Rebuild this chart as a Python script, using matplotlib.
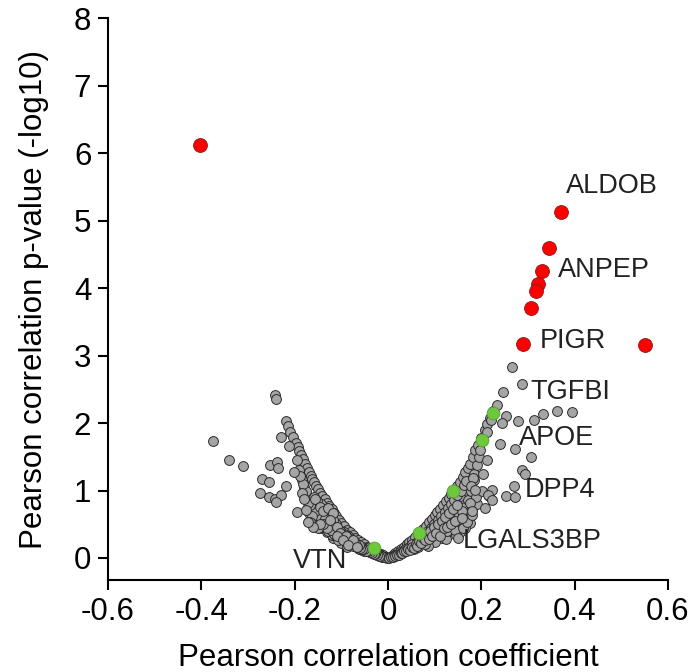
import matplotlib
matplotlib.use("Agg")
import matplotlib.pyplot as plt

plt.rcParams['font.family'] = ['Liberation Sans', 'DejaVu Sans']

# ---- grey points: upper edge of left branch ----
left_edge_r = [-0.242, -0.240, -0.219, -0.214, -0.210, -0.204, -0.197, -0.193, -0.190, -0.186,
               -0.182, -0.178, -0.174, -0.170, -0.166, -0.162, -0.158, -0.154, -0.150, -0.146,
               -0.141, -0.136, -0.131, -0.126, -0.121, -0.116, -0.111, -0.106, -0.100, -0.094,
               -0.088, -0.082, -0.076, -0.070, -0.064, -0.058, -0.052, -0.046, -0.040, -0.034,
               -0.028, -0.022, -0.016, -0.010, -0.004]
left_edge_v = [2.41, 2.36, 2.03, 1.96, 1.87, 1.80, 1.71, 1.64, 1.58, 1.52,
               1.46, 1.40, 1.34, 1.28, 1.22, 1.17, 1.12, 1.07, 1.02, 0.97,
               0.92, 0.87, 0.82, 0.77, 0.72, 0.67, 0.62, 0.57, 0.52, 0.47,
               0.42, 0.38, 0.34, 0.30, 0.26, 0.23, 0.20, 0.17, 0.14, 0.12,
               0.10, 0.08, 0.06, 0.04, 0.02]

# ---- grey points: inner band of left branch ----
left_band_r = [-0.030, -0.040, -0.050, -0.060, -0.070, -0.078, -0.085, -0.090, -0.096, -0.100,
               -0.106, -0.110, -0.115, -0.120, -0.125, -0.130, -0.136, -0.140, -0.146, -0.150,
               -0.155, -0.160, -0.165, -0.170, -0.145, -0.160, -0.130, -0.118, -0.100, -0.088,
               -0.175, -0.180, -0.185, -0.190, -0.195, -0.020, -0.012, -0.055, -0.065, -0.075,
               -0.135, -0.155, -0.170, -0.120, -0.108]
left_band_v = [0.07, 0.10, 0.13, 0.17, 0.20, 0.25, 0.22, 0.30, 0.27, 0.36,
               0.32, 0.42, 0.38, 0.50, 0.45, 0.56, 0.52, 0.64, 0.60, 0.72,
               0.66, 0.80, 0.74, 0.88, 0.44, 0.52, 0.38, 0.30, 0.22, 0.16,
               0.95, 1.05, 1.15, 1.30, 1.45, 0.04, 0.02, 0.12, 0.15, 0.18,
               0.46, 0.58, 0.66, 0.34, 0.26]

left_band2_r = [-0.008, -0.014, -0.018, -0.024, -0.026, -0.032, -0.036, -0.038, -0.044, -0.048,
                -0.052, -0.056, -0.062, -0.066, -0.068, -0.072, -0.080, -0.082, -0.086, -0.092,
                -0.094, -0.098, -0.104, -0.108, -0.112, -0.114, -0.118, -0.122, -0.126, -0.128,
                -0.132, -0.134, -0.138, -0.142, -0.144, -0.148, -0.152, -0.156, -0.158, -0.162,
                -0.168, -0.172, -0.176, -0.182, -0.188]
left_band2_v = [0.01, 0.03, 0.05, 0.05, 0.08, 0.07, 0.11, 0.09, 0.12, 0.15,
                0.11, 0.17, 0.14, 0.21, 0.19, 0.24, 0.22, 0.29, 0.33, 0.25,
                0.38, 0.34, 0.42, 0.38, 0.50, 0.34, 0.57, 0.44, 0.62, 0.40,
                0.68, 0.48, 0.74, 0.56, 0.80, 0.62, 0.84, 0.70, 0.90, 0.62,
                0.78, 0.82, 1.00, 1.10, 1.22]

left_band3_r = [-0.003, -0.007, -0.011, -0.015, -0.019, -0.023, -0.027, -0.031, -0.035, -0.039,
                -0.043, -0.047, -0.051, -0.055, -0.059, -0.063, -0.067, -0.071, -0.075, -0.079,
                -0.083, -0.087, -0.091, -0.095, -0.099, -0.103, -0.107, -0.111, -0.115, -0.119,
                -0.123, -0.127, -0.131, -0.135, -0.139]
left_band3_v = [0.00, 0.01, 0.02, 0.03, 0.03, 0.05, 0.06, 0.06, 0.08, 0.09,
                0.10, 0.10, 0.13, 0.14, 0.15, 0.19, 0.17, 0.22, 0.21, 0.27,
                0.26, 0.31, 0.28, 0.35, 0.31, 0.40, 0.35, 0.44, 0.36, 0.48,
                0.41, 0.52, 0.45, 0.58, 0.50]

# ---- grey points: scattered (left) ----
left_out_r = [-0.375, -0.341, -0.310, -0.230, -0.212, -0.252, -0.237, -0.236, -0.202, -0.269,
              -0.256, -0.219, -0.275, -0.255, -0.242, -0.230, -0.239, -0.185, -0.180, -0.196,
              -0.175, -0.157, -0.167, -0.149, -0.146, -0.160, -0.172, -0.146, -0.139, -0.128,
              -0.117, -0.124, -0.110, -0.103, -0.089, -0.074, -0.110, -0.096, -0.085, -0.067]
left_out_v = [1.73, 1.45, 1.37, 1.80, 1.66, 1.38, 1.42, 1.33, 1.28, 1.17,
              1.12, 1.06, 0.96, 0.91, 0.88, 0.93, 0.83, 0.96, 0.87, 0.68,
              0.71, 0.88, 0.54, 0.44, 0.51, 0.46, 0.53, 0.76, 0.69, 0.74,
              0.66, 0.56, 0.46, 0.37, 0.32, 0.27, 0.32, 0.27, 0.19, 0.17]

# ---- grey points: upper edge of right branch ----
right_edge_r = [0.004, 0.010, 0.016, 0.022, 0.028, 0.034, 0.040, 0.046, 0.052, 0.058,
                0.064, 0.070, 0.076, 0.082, 0.088, 0.094, 0.100, 0.106, 0.112, 0.118,
                0.124, 0.130, 0.136, 0.142, 0.148, 0.154, 0.160, 0.166, 0.172, 0.176,
                0.182, 0.187, 0.193, 0.200, 0.207, 0.212, 0.219, 0.226, 0.233, 0.246]
right_edge_v = [0.02, 0.05, 0.08, 0.11, 0.14, 0.17, 0.20, 0.24, 0.27, 0.31,
                0.35, 0.39, 0.43, 0.48, 0.53, 0.58, 0.63, 0.68, 0.73, 0.79,
                0.84, 0.89, 0.95, 1.01, 1.07, 1.13, 1.20, 1.27, 1.34, 1.40,
                1.50, 1.60, 1.68, 1.78, 1.90, 1.98, 2.08, 2.18, 2.27, 2.46]

# ---- grey points: inner band of right branch ----
right_band_r = [0.030, 0.040, 0.050, 0.060, 0.070, 0.075, 0.085, 0.090, 0.095, 0.100,
                0.105, 0.110, 0.115, 0.120, 0.125, 0.130, 0.135, 0.140, 0.145, 0.150,
                0.155, 0.160, 0.165, 0.170, 0.150, 0.160, 0.130, 0.115, 0.100, 0.085,
                0.140, 0.120, 0.135, 0.145, 0.155, 0.165, 0.175, 0.185, 0.190, 0.195,
                0.198, 0.170, 0.180, 0.175, 0.190, 0.165, 0.155, 0.145, 0.125, 0.020,
                0.012, 0.055, 0.065]
right_band_v = [0.08, 0.12, 0.15, 0.18, 0.22, 0.28, 0.26, 0.34, 0.30, 0.40,
                0.36, 0.46, 0.42, 0.52, 0.48, 0.58, 0.54, 0.66, 0.60, 0.74,
                0.68, 0.82, 0.76, 0.92, 0.50, 0.56, 0.40, 0.30, 0.24, 0.18,
                0.46, 0.62, 0.72, 0.82, 0.92, 1.05, 1.12, 1.25, 1.38, 1.50,
                1.60, 0.62, 0.72, 0.52, 0.80, 0.45, 0.38, 0.34, 0.28, 0.05,
                0.03, 0.13, 0.16]

right_band2_r = [0.008, 0.014, 0.018, 0.024, 0.026, 0.032, 0.036, 0.038, 0.044, 0.048,
                 0.052, 0.056, 0.062, 0.066, 0.068, 0.072, 0.078, 0.080, 0.082, 0.088,
                 0.092, 0.096, 0.098, 0.104, 0.108, 0.112, 0.114, 0.118, 0.122, 0.126,
                 0.128, 0.132, 0.134, 0.138, 0.142, 0.144, 0.148, 0.152, 0.156, 0.158,
                 0.162, 0.168, 0.172, 0.178, 0.184, 0.150, 0.160, 0.170, 0.180, 0.188]
right_band2_v = [0.02, 0.04, 0.04, 0.07, 0.09, 0.09, 0.13, 0.11, 0.16, 0.13,
                 0.20, 0.16, 0.24, 0.20, 0.28, 0.25, 0.33, 0.20, 0.38, 0.30,
                 0.44, 0.36, 0.50, 0.44, 0.56, 0.38, 0.62, 0.50, 0.68, 0.40,
                 0.74, 0.52, 0.80, 0.58, 0.86, 0.42, 0.94, 0.64, 1.00, 0.70,
                 1.08, 1.14, 0.86, 1.00, 1.15, 0.30, 0.44, 0.54, 0.64, 0.90]

right_band3_r = [0.003, 0.007, 0.011, 0.015, 0.019, 0.023, 0.027, 0.031, 0.035, 0.039,
                 0.043, 0.047, 0.051, 0.055, 0.059, 0.063, 0.067, 0.071, 0.075, 0.079,
                 0.083, 0.087, 0.091, 0.095, 0.099, 0.103, 0.107, 0.111, 0.115, 0.119,
                 0.123, 0.127, 0.131, 0.135, 0.139, 0.143, 0.147]
right_band3_v = [0.00, 0.02, 0.02, 0.03, 0.05, 0.05, 0.07, 0.08, 0.10, 0.10,
                 0.13, 0.12, 0.17, 0.15, 0.21, 0.18, 0.25, 0.22, 0.30, 0.26,
                 0.35, 0.28, 0.40, 0.33, 0.46, 0.37, 0.50, 0.33, 0.55, 0.44,
                 0.60, 0.46, 0.66, 0.50, 0.72, 0.55, 0.78]

# ---- grey points: scattered (right) ----
right_out_r = [0.265, 0.287, 0.253, 0.278, 0.313, 0.333, 0.363, 0.394, 0.244, 0.240,
               0.273, 0.307, 0.213, 0.287, 0.293, 0.203, 0.182, 0.177, 0.201, 0.217,
               0.223, 0.253, 0.273, 0.271, 0.176, 0.180, 0.158, 0.208, 0.187, 0.215,
               0.223, 0.220, 0.212]
right_out_v = [2.83, 2.58, 2.10, 2.03, 2.05, 2.14, 2.18, 2.16, 2.00, 1.69,
               1.61, 1.49, 1.45, 1.30, 1.25, 1.25, 1.18, 1.06, 0.99, 0.92,
               1.01, 0.92, 0.91, 1.06, 0.81, 0.69, 0.59, 0.74, 1.01, 0.93,
               0.86, 2.05, 1.87]

# ---- significant (red) ----
red_r = [-0.403, 0.371, 0.345, 0.330, 0.322, 0.318, 0.307, 0.290, 0.551]
red_v = [6.12, 5.13, 4.59, 4.25, 4.06, 3.96, 3.70, 3.17, 3.16]

# ---- highlighted (green) ----
green_r = [-0.031, 0.067, 0.139, 0.202, 0.225]
green_v = [0.15, 0.37, 0.99, 1.75, 2.15]

# ---- labels ----
label_text = ["ALDOB", "ANPEP", "PIGR", "TGFBI", "APOE", "DPP4", "LGALS3BP", "VTN"]
label_r = [0.382, 0.365, 0.326, 0.305, 0.281, 0.292, 0.161, -0.204]
label_v = [5.51, 4.27, 3.21, 2.46, 1.78, 1.01, 0.25, -0.04]

x_ticks = [-0.6, -0.4, -0.2, 0, 0.2, 0.4, 0.6]
x_tick_labels = ["-0.6", "-0.4", "-0.2", "0", "0.2", "0.4", "0.6"]
y_ticks = [0, 1, 2, 3, 4, 5, 6, 7, 8]

fig = plt.figure(figsize=(6.91, 6.72), dpi=100)
ax = fig.add_axes([0.1563, 0.1369, 0.8104, 0.8363])

grey_r = (left_edge_r + left_band_r + left_band2_r + left_band3_r + left_out_r
          + right_edge_r + right_band_r + right_band2_r + right_band3_r + right_out_r)
grey_v = (left_edge_v + left_band_v + left_band2_v + left_band3_v + left_out_v
          + right_edge_v + right_band_v + right_band2_v + right_band3_v + right_out_v)
ax.scatter(grey_r, grey_v, s=50, facecolor='#a5a5a5', edgecolor='#2a2a2a',
           linewidth=0.7, zorder=2)
ax.scatter(red_r, red_v, s=100, facecolor='#ff0000', edgecolor='#8a1a1a',
           linewidth=0.6, zorder=3)
ax.scatter(green_r, green_v, s=85, facecolor='#6dc83c', edgecolor='#5a9a3a',
           linewidth=0.6, zorder=3)

for t, r, v in zip(label_text, label_r, label_v):
    ax.text(r, v, t, fontsize=19.5, color='#222222', ha='left', va='center', zorder=4)

ax.set_xlim(-0.6, 0.6)
ax.set_ylim(-0.326, 8)
ax.set_xticks(x_ticks)
ax.set_xticklabels(x_tick_labels)
ax.set_yticks(y_ticks)
ax.tick_params(axis='both', labelsize=22.5, length=7, width=1.5, direction='out',
               colors='black', pad=5)
for side in ['top', 'right']:
    ax.spines[side].set_visible(False)
for side in ['left', 'bottom']:
    ax.spines[side].set_linewidth(1.5)

ax.set_xlabel("Pearson correlation coefficient", fontsize=22.5, labelpad=12)
ax.set_ylabel("Pearson correlation p-value (-log10)", fontsize=22.5, labelpad=18)

fig.savefig("out.png", dpi=100)
